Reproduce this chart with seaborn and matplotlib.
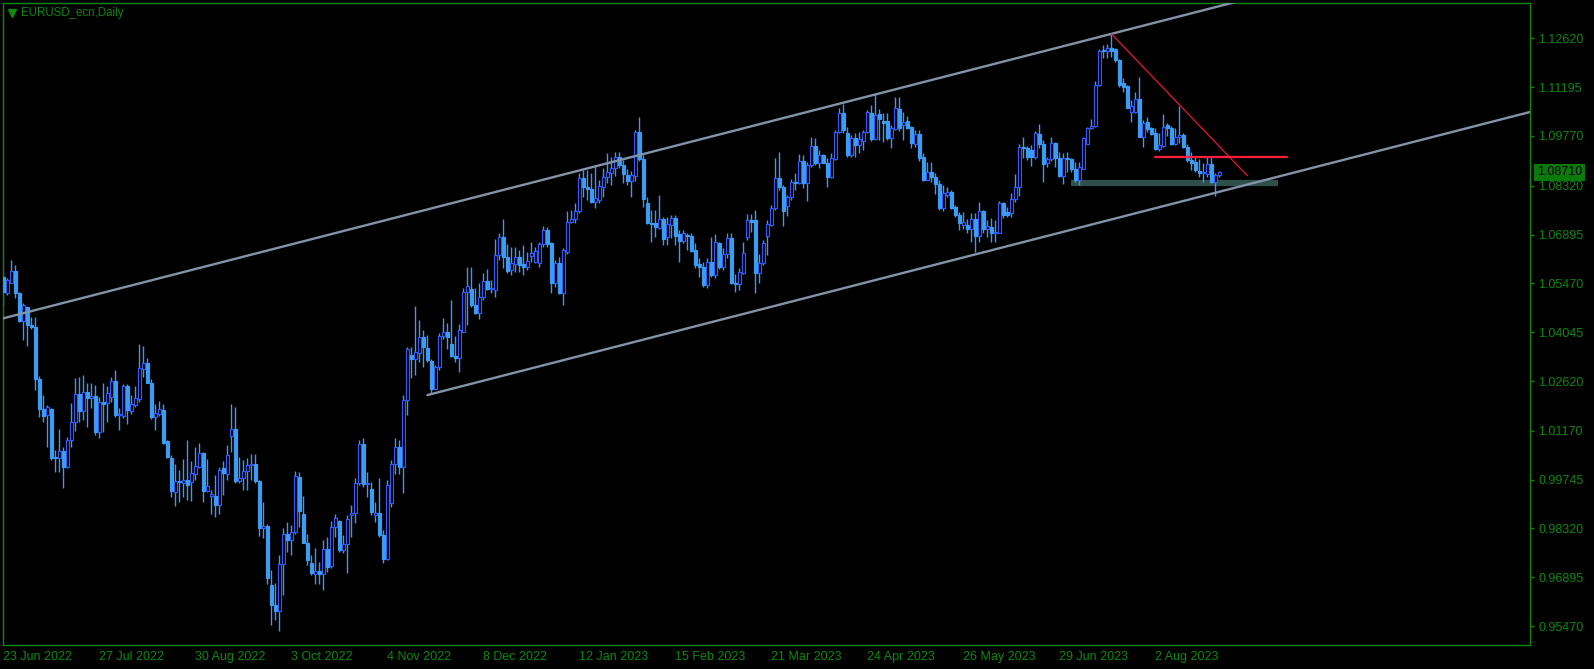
import numpy as np
import pandas as pd
import seaborn as sns
import matplotlib.pyplot as plt

# daily EURUSD candles (23 Jun 2022 .. 24 Aug 2023)
opens = [
    1.0566, 1.0520, 1.0548, 1.0583, 1.0518, 1.0438, 1.0478, 1.0425, 1.0420, 1.0268,
    1.0180, 1.0163, 1.0180, 1.0040, 1.0036, 1.0057, 1.0012, 1.0089, 1.0141, 1.0224,
    1.0175, 1.0229, 1.0213, 1.0218, 1.0114, 1.0200, 1.0197, 1.0216, 1.0262, 1.0162,
    1.0160, 1.0247, 1.0175, 1.0192, 1.0209, 1.0297, 1.0316, 1.0255, 1.0158, 1.0167,
    1.0177, 1.0087, 1.0036, 0.9939, 0.9970, 0.9963, 0.9973, 0.9966, 0.9992, 1.0012,
    1.0051, 0.9942, 0.9926, 0.9926, 0.9900, 1.0007, 0.9992, 1.0101, 1.0121, 0.9971,
    0.9980, 1.0000, 1.0017, 1.0021, 0.9970, 0.9832, 0.9838, 0.9666, 0.9608, 0.9591,
    0.9729, 0.9815, 0.9798, 0.9822, 0.9982, 0.9875, 0.9790, 0.9732, 0.9700, 0.9707,
    0.9700, 0.9771, 0.9722, 0.9835, 0.9854, 0.9769, 0.9786, 0.9871, 0.9876, 0.9963,
    1.0077, 0.9961, 0.9946, 0.9872, 0.9877, 0.9812, 0.9744, 0.9905, 1.0019, 1.0070,
    1.0010, 1.0208, 1.0338, 1.0325, 1.0344, 1.0391, 1.0357, 1.0321, 1.0239, 1.0302,
    1.0394, 1.0406, 1.0370, 1.0336, 1.0328, 1.0406, 1.0523, 1.0530, 1.0485, 1.0461,
    1.0506, 1.0555, 1.0530, 1.0529, 1.0631, 1.0681, 1.0625, 1.0586, 1.0603, 1.0623,
    1.0603, 1.0594, 1.0626, 1.0610, 1.0605, 1.0662, 1.0702, 1.0664, 1.0547, 1.0605,
    1.0520, 1.0639, 1.0727, 1.0734, 1.0759, 1.0853, 1.0829, 1.0821, 1.0785, 1.0791,
    1.0829, 1.0856, 1.0870, 1.0885, 1.0915, 1.0892, 1.0863, 1.0846, 1.0860, 1.0989,
    1.0909, 1.0780, 1.0724, 1.0722, 1.0708, 1.0734, 1.0681, 1.0717, 1.0737, 1.0691,
    1.0671, 1.0688, 1.0685, 1.0644, 1.0603, 1.0596, 1.0542, 1.0610, 1.0571, 1.0666,
    1.0594, 1.0634, 1.0678, 1.0549, 1.0545, 1.0578, 1.0683, 1.0732, 1.0732, 1.0576,
    1.0605, 1.0685, 1.0717, 1.0766, 1.0853, 1.0827, 1.0773, 1.0798, 1.0844, 1.0841,
    1.0905, 1.0839, 1.0892, 1.0949, 1.0899, 1.0921, 1.0897, 1.0856, 1.0909, 1.0990,
    1.1045, 1.0987, 1.0922, 1.0970, 1.0951, 1.0963, 1.0990, 1.1043, 1.0967, 1.1041,
    1.1022, 1.1022, 1.0970, 1.0996, 1.1055, 1.1009, 1.1022, 1.1004, 1.0955, 1.0983,
    1.0916, 1.0850, 1.0873, 1.0858, 1.0837, 1.0766, 1.0806, 1.0813, 1.0769, 1.0746,
    1.0717, 1.0717, 1.0705, 1.0734, 1.0685, 1.0759, 1.0705, 1.0712, 1.0693, 1.0695,
    1.0782, 1.0756, 1.0753, 1.0792, 1.0827, 1.0946, 1.0943, 1.0936, 1.0915, 1.0983,
    1.0955, 1.0899, 1.0909, 1.0957, 1.0912, 1.0860, 1.0912, 1.0909, 1.0880, 1.0850,
    1.0882, 1.0955, 1.0999, 1.1006, 1.1126, 1.1228, 1.1226, 1.1233, 1.1230, 1.1199,
    1.1131, 1.1123, 1.1048, 1.1048, 1.1084, 1.0975, 1.1019, 1.0999, 1.0985, 1.0938,
    1.0948, 1.1009, 1.0999, 1.0955, 1.0973, 1.0980, 1.0946, 1.0907, 1.0902, 1.0876,
    1.0868, 1.0866, 1.0895, 1.0844, 1.0863,
]
highs = [
    1.0581, 1.0564, 1.0615, 1.0600, 1.0522, 1.0490, 1.0479, 1.0450, 1.0450, 1.0276,
    1.0221, 1.0192, 1.0182, 1.0060, 1.0122, 1.0070, 1.0099, 1.0198, 1.0271, 1.0274,
    1.0279, 1.0257, 1.0257, 1.0250, 1.0216, 1.0257, 1.0247, 1.0274, 1.0294, 1.0182,
    1.0253, 1.0253, 1.0221, 1.0247, 1.0370, 1.0364, 1.0328, 1.0267, 1.0194, 1.0203,
    1.0194, 1.0091, 1.0046, 1.0021, 1.0002, 1.0034, 1.0089, 1.0029, 1.0070, 1.0080,
    1.0055, 1.0034, 0.9945, 0.9987, 1.0012, 1.0029, 1.0075, 1.0196, 1.0186, 1.0041,
    1.0031, 1.0036, 1.0050, 1.0050, 0.9973, 0.9909, 0.9846, 0.9710, 0.9673, 0.9754,
    0.9832, 0.9851, 0.9843, 0.9999, 0.9997, 0.9926, 0.9817, 0.9754, 0.9774, 0.9735,
    0.9798, 0.9808, 0.9854, 0.9874, 0.9856, 0.9812, 0.9871, 0.9900, 0.9978, 1.0090,
    1.0095, 0.9997, 0.9968, 0.9910, 0.9978, 0.9827, 0.9973, 1.0031, 1.0095, 1.0090,
    1.0221, 1.0362, 1.0362, 1.0481, 1.0440, 1.0411, 1.0396, 1.0325, 1.0308, 1.0401,
    1.0445, 1.0430, 1.0498, 1.0394, 1.0428, 1.0532, 1.0595, 1.0595, 1.0532, 1.0549,
    1.0578, 1.0588, 1.0556, 1.0675, 1.0694, 1.0736, 1.0662, 1.0654, 1.0654, 1.0644,
    1.0659, 1.0639, 1.0668, 1.0654, 1.0668, 1.0714, 1.0712, 1.0668, 1.0615, 1.0625,
    1.0649, 1.0759, 1.0761, 1.0780, 1.0868, 1.0878, 1.0878, 1.0870, 1.0889, 1.0848,
    1.0885, 1.0928, 1.0916, 1.0931, 1.0930, 1.0907, 1.0880, 1.0875, 1.0995, 1.1033,
    1.0922, 1.0800, 1.0761, 1.0761, 1.0805, 1.0741, 1.0741, 1.0747, 1.0746, 1.0703,
    1.0703, 1.0693, 1.0693, 1.0664, 1.0620, 1.0610, 1.0620, 1.0683, 1.0691, 1.0669,
    1.0649, 1.0693, 1.0693, 1.0574, 1.0591, 1.0669, 1.0749, 1.0749, 1.0761, 1.0634,
    1.0673, 1.0732, 1.0776, 1.0912, 1.0930, 1.0834, 1.0805, 1.0851, 1.0868, 1.0924,
    1.0922, 1.0902, 1.0973, 1.0970, 1.0936, 1.0924, 1.0912, 1.0926, 1.0994, 1.1058,
    1.1070, 1.1004, 1.0980, 1.0987, 1.0990, 1.0994, 1.1053, 1.1067, 1.1100, 1.1055,
    1.1043, 1.1043, 1.1009, 1.1092, 1.1090, 1.1048, 1.1035, 1.1006, 1.0994, 1.0994,
    1.0926, 1.0902, 1.0902, 1.0868, 1.0850, 1.0834, 1.0829, 1.0819, 1.0775, 1.0756,
    1.0756, 1.0734, 1.0753, 1.0751, 1.0785, 1.0761, 1.0732, 1.0737, 1.0732, 1.0788,
    1.0785, 1.0771, 1.0810, 1.0866, 1.0954, 1.0973, 1.0948, 1.0951, 1.0992, 1.1012,
    1.0965, 1.0917, 1.0975, 1.0960, 1.0931, 1.0926, 1.0931, 1.0912, 1.0902, 1.0902,
    1.0973, 1.1004, 1.1028, 1.1138, 1.1230, 1.1243, 1.1245, 1.1275, 1.1233, 1.1201,
    1.1145, 1.1126, 1.1082, 1.1106, 1.1148, 1.1024, 1.1033, 1.1002, 1.1000, 1.0985,
    1.1041, 1.1016, 1.1006, 1.0999, 1.1064, 1.0985, 1.0955, 1.0931, 1.0918, 1.0909,
    1.0897, 1.0918, 1.0918, 1.0870, 1.0876,
]
lows = [
    1.0483, 1.0513, 1.0547, 1.0503, 1.0435, 1.0383, 1.0364, 1.0415, 1.0235, 1.0158,
    1.0143, 1.0070, 1.0031, 0.9997, 0.9997, 0.9951, 1.0007, 1.0070, 1.0116, 1.0143,
    1.0148, 1.0128, 1.0182, 1.0104, 1.0097, 1.0114, 1.0143, 1.0201, 1.0158, 1.0119,
    1.0153, 1.0138, 1.0167, 1.0187, 1.0201, 1.0274, 1.0255, 1.0150, 1.0119, 1.0160,
    1.0078, 1.0036, 0.9924, 0.9897, 0.9909, 0.9924, 0.9914, 0.9912, 0.9973, 1.0007,
    0.9909, 0.9939, 0.9875, 0.9866, 0.9875, 0.9930, 0.9973, 1.0055, 0.9965, 0.9963,
    0.9945, 0.9944, 0.9973, 0.9963, 0.9809, 0.9805, 0.9671, 0.9549, 0.9564, 0.9533,
    0.9637, 0.9763, 0.9754, 0.9817, 0.9836, 0.9788, 0.9725, 0.9695, 0.9671, 0.9671,
    0.9652, 0.9705, 0.9715, 0.9808, 0.9764, 0.9759, 0.9702, 0.9806, 0.9848, 0.9958,
    0.9953, 0.9924, 0.9871, 0.9851, 0.9807, 0.9730, 0.9740, 0.9895, 0.9992, 0.9992,
    0.9934, 1.0163, 1.0270, 1.0279, 1.0318, 1.0304, 1.0318, 1.0224, 1.0238, 1.0294,
    1.0386, 1.0354, 1.0333, 1.0318, 1.0289, 1.0406, 1.0425, 1.0479, 1.0459, 1.0442,
    1.0498, 1.0527, 1.0518, 1.0508, 1.0615, 1.0591, 1.0578, 1.0571, 1.0581, 1.0581,
    1.0571, 1.0586, 1.0610, 1.0605, 1.0595, 1.0654, 1.0654, 1.0518, 1.0537, 1.0516,
    1.0484, 1.0634, 1.0722, 1.0724, 1.0751, 1.0800, 1.0790, 1.0780, 1.0766, 1.0780,
    1.0798, 1.0839, 1.0834, 1.0860, 1.0885, 1.0839, 1.0834, 1.0800, 1.0845, 1.0905,
    1.0770, 1.0720, 1.0669, 1.0683, 1.0705, 1.0659, 1.0660, 1.0680, 1.0659, 1.0610,
    1.0664, 1.0644, 1.0639, 1.0591, 1.0566, 1.0537, 1.0532, 1.0566, 1.0564, 1.0588,
    1.0586, 1.0620, 1.0545, 1.0523, 1.0527, 1.0573, 1.0673, 1.0698, 1.0518, 1.0547,
    1.0600, 1.0630, 1.0714, 1.0761, 1.0819, 1.0713, 1.0743, 1.0790, 1.0819, 1.0837,
    1.0824, 1.0788, 1.0887, 1.0892, 1.0885, 1.0897, 1.0829, 1.0853, 1.0907, 1.0985,
    1.0985, 1.0915, 1.0915, 1.0917, 1.0928, 1.0936, 1.0987, 1.0963, 1.0965, 1.0965,
    1.0960, 1.0965, 1.0941, 1.0994, 1.0992, 1.0965, 1.0996, 1.0941, 1.0946, 1.0905,
    1.0846, 1.0848, 1.0843, 1.0809, 1.0761, 1.0759, 1.0800, 1.0763, 1.0741, 1.0702,
    1.0707, 1.0693, 1.0668, 1.0639, 1.0668, 1.0693, 1.0683, 1.0668, 1.0668, 1.0693,
    1.0739, 1.0741, 1.0741, 1.0785, 1.0802, 1.0912, 1.0907, 1.0889, 1.0909, 1.0941,
    1.0844, 1.0887, 1.0905, 1.0887, 1.0858, 1.0837, 1.0873, 1.0873, 1.0844, 1.0834,
    1.0880, 1.0953, 1.0996, 1.1004, 1.1123, 1.1204, 1.1204, 1.1206, 1.1194, 1.1121,
    1.1106, 1.1058, 1.1019, 1.1045, 1.0973, 1.0944, 1.0990, 1.0980, 1.0936, 1.0934,
    1.0946, 1.0977, 1.0951, 1.0951, 1.0957, 1.0941, 1.0902, 1.0878, 1.0873, 1.0858,
    1.0844, 1.0858, 1.0839, 1.0802, 1.0858,
]
closes = [
    1.0522, 1.0557, 1.0583, 1.0518, 1.0438, 1.0484, 1.0425, 1.0420, 1.0268, 1.0180,
    1.0161, 1.0186, 1.0037, 1.0036, 1.0057, 1.0012, 1.0089, 1.0141, 1.0224, 1.0175,
    1.0229, 1.0213, 1.0219, 1.0114, 1.0200, 1.0195, 1.0226, 1.0262, 1.0162, 1.0167,
    1.0247, 1.0177, 1.0194, 1.0211, 1.0301, 1.0316, 1.0257, 1.0158, 1.0170, 1.0179,
    1.0082, 1.0041, 0.9942, 0.9970, 0.9966, 0.9973, 0.9960, 0.9994, 1.0014, 1.0051,
    0.9942, 0.9955, 0.9932, 0.9900, 1.0002, 0.9994, 1.0046, 1.0121, 0.9971, 0.9980,
    1.0000, 1.0017, 1.0021, 0.9970, 0.9834, 0.9838, 0.9688, 0.9608, 0.9591, 0.9729,
    0.9815, 0.9798, 0.9822, 0.9985, 0.9883, 0.9790, 0.9741, 0.9701, 0.9707, 0.9700,
    0.9771, 0.9720, 0.9835, 0.9861, 0.9769, 0.9786, 0.9858, 0.9876, 0.9963, 1.0077,
    0.9961, 0.9965, 0.9880, 0.9877, 0.9812, 0.9744, 0.9958, 1.0019, 1.0070, 1.0010,
    1.0208, 1.0354, 1.0325, 1.0347, 1.0391, 1.0360, 1.0323, 1.0240, 1.0304, 1.0394,
    1.0406, 1.0391, 1.0336, 1.0328, 1.0411, 1.0523, 1.0539, 1.0484, 1.0461, 1.0506,
    1.0555, 1.0530, 1.0534, 1.0631, 1.0681, 1.0625, 1.0584, 1.0605, 1.0623, 1.0600,
    1.0594, 1.0613, 1.0636, 1.0641, 1.0662, 1.0702, 1.0662, 1.0547, 1.0605, 1.0520,
    1.0644, 1.0727, 1.0734, 1.0759, 1.0853, 1.0829, 1.0821, 1.0785, 1.0795, 1.0831,
    1.0856, 1.0873, 1.0885, 1.0915, 1.0892, 1.0866, 1.0846, 1.0863, 1.0989, 1.0909,
    1.0792, 1.0724, 1.0720, 1.0710, 1.0734, 1.0675, 1.0720, 1.0737, 1.0685, 1.0671,
    1.0693, 1.0684, 1.0642, 1.0600, 1.0596, 1.0542, 1.0610, 1.0571, 1.0667, 1.0594,
    1.0634, 1.0678, 1.0547, 1.0545, 1.0581, 1.0636, 1.0732, 1.0725, 1.0576, 1.0607,
    1.0666, 1.0720, 1.0766, 1.0853, 1.0827, 1.0759, 1.0798, 1.0844, 1.0841, 1.0905,
    1.0841, 1.0892, 1.0949, 1.0899, 1.0921, 1.0899, 1.0858, 1.0912, 1.0990, 1.1045,
    1.0993, 1.0922, 1.0970, 1.0951, 1.0967, 1.0990, 1.1048, 1.0967, 1.1038, 1.1026,
    1.1016, 1.0970, 1.0999, 1.1058, 1.1000, 1.1019, 1.1000, 1.0957, 1.0983, 1.0914,
    1.0850, 1.0873, 1.0858, 1.0837, 1.0766, 1.0811, 1.0813, 1.0766, 1.0746, 1.0724,
    1.0727, 1.0705, 1.0734, 1.0685, 1.0759, 1.0707, 1.0714, 1.0693, 1.0698, 1.0782,
    1.0746, 1.0746, 1.0792, 1.0829, 1.0946, 1.0941, 1.0917, 1.0915, 1.0985, 1.0954,
    1.0895, 1.0909, 1.0957, 1.0912, 1.0860, 1.0912, 1.0909, 1.0880, 1.0850, 1.0887,
    1.0970, 1.0999, 1.1006, 1.1126, 1.1226, 1.1224, 1.1233, 1.1226, 1.1199, 1.1126,
    1.1121, 1.1060, 1.1064, 1.1084, 1.0975, 1.1016, 1.0996, 1.0983, 1.0938, 1.0951,
    1.1004, 1.0999, 1.0953, 1.0975, 1.0980, 1.0944, 1.0907, 1.0899, 1.0878, 1.0870,
    1.0873, 1.0895, 1.0844, 1.0863, 1.0871,
]

date_labels = ['23 Jun 2022', '27 Jul 2022', '30 Aug 2022', '3 Oct 2022', '4 Nov 2022',
               '8 Dec 2022', '12 Jan 2023', '15 Feb 2023', '21 Mar 2023', '24 Apr 2023',
               '26 May 2023', '29 Jun 2023', '2 Aug 2023']
price_labels = ['0.95470', '0.96895', '0.98320', '0.99745', '1.01170', '1.02620', '1.04045',
                '1.05470', '1.06895', '1.08320', '1.09770', '1.11195', '1.12620']
last_price = '1.08710'

# drawn objects (bar index, price)
channel_top = [(0, 1.0445), (277, 1.1275)]   # ray to the right
channel_bottom_start = (106, 1.0221)         # parallel ray
red_trend = [(277, 1.1275), (311, 1.0861)]
red_level = [(288, 1.0917), (321, 1.0917)]
support_band = [(267, 1.0840), (318.6, 1.0840)]

GREEN = '#0b8a0b'
BEAR = '#3a9cf2'
BULL_EDGE = '#2f5bff'
WICK = '#4694f2'

sns.set_theme(style='dark', rc={'axes.facecolor': 'black', 'figure.facecolor': 'black',
                                'axes.edgecolor': GREEN, 'axes.grid': False})
plt.rcParams['font.family'] = ['Liberation Sans', 'DejaVu Sans']

dates = pd.bdate_range('2022-06-23', periods=len(closes), freq='C', holidays=['2022-12-26'])
df = pd.DataFrame({'date': dates, 'open': opens, 'high': highs, 'low': lows, 'close': closes})
df['idx'] = np.arange(len(df))
df['high'] = df[['high', 'open', 'close']].max(axis=1)
df['low'] = df[['low', 'open', 'close']].min(axis=1)
up = df['close'] >= df['open']

W, H = 1594, 669
fig = plt.figure(figsize=(W / 100, H / 100), dpi=100)
ax = fig.add_axes([2.7 / W, (H - 645) / H, (1530 - 2.7) / W, (645 - 2.7) / H])

# wicks then bodies
ax.vlines(df['idx'], df['low'], df['high'], color=WICK, lw=1.0, zorder=2)
body_lo = df[['open', 'close']].min(axis=1)
body_h = (df['close'] - df['open']).abs()
ax.bar(df.loc[up, 'idx'], body_h[up], bottom=body_lo[up], width=0.55,
       facecolor='black', edgecolor=BULL_EDGE, linewidth=0.85, zorder=3)
ax.bar(df.loc[~up, 'idx'], body_h[~up], bottom=body_lo[~up], width=0.55,
       facecolor=BEAR, edgecolor=BEAR, linewidth=0.85, zorder=3)

# channel
(x0, y0), (x1, y1) = channel_top
slope = (y1 - y0) / (x1 - x0)
xr = np.array([-2, 420])
sns.lineplot(x=xr, y=y0 + slope * (xr - x0), color='#8494a8', lw=1.7, ax=ax, zorder=4)
bx, by = channel_bottom_start
xb = np.array([bx, 420])
sns.lineplot(x=xb, y=by + slope * (xb - bx), color='#8494a8', lw=1.7, ax=ax, zorder=4)

ax.plot([p[0] for p in red_trend], [p[1] for p in red_trend], color='#e8173a', lw=0.9, zorder=4)
ax.plot([p[0] for p in red_level], [p[1] for p in red_level], color='#ff1e3c', lw=1.6, zorder=4)
ax.plot([p[0] for p in support_band], [p[1] for p in support_band], color='#2f4f4a',
        lw=4.5, solid_capstyle='butt', zorder=1)

ax.set_xlim(-0.18, 381.65)
ax.set_ylim(0.94917, 1.13659)

# axes cosmetics
for s in ax.spines.values():
    s.set_color(GREEN)
    s.set_linewidth(1.0)
tick_pos = dates.get_indexer(pd.to_datetime(date_labels, format='%d %b %Y'))
ax.set_xticks(tick_pos)
ax.set_xticklabels(date_labels, ha='left')
ax.yaxis.tick_right()
ax.set_yticks([float(v) for v in price_labels])
ax.set_yticklabels(price_labels)
ax.tick_params(axis='both', colors=GREEN, labelcolor=GREEN, labelsize=9, length=3,
               width=1, direction='out')
ax.tick_params(axis='x', pad=1.5)
ax.tick_params(axis='y', pad=3)
ax.set_xlabel('')
ax.set_ylabel('')

# current price tag
ax.text(1.0047, float(last_price), last_price, transform=ax.get_yaxis_transform(),
        ha='left', va='center', fontsize=9, color='black', zorder=6, clip_on=False,
        bbox=dict(boxstyle='square,pad=0.22', facecolor='#0a7a0a', edgecolor='none'))

# title
ax.plot([0.0058], [0.9835], marker='v', ms=5.5, color=GREEN, transform=ax.transAxes,
        clip_on=False, zorder=6)
ax.text(0.0122, 0.9835, 'EURUSD_ecn,Daily', transform=ax.transAxes, ha='left', va='center',
        fontsize=8.3, color=GREEN)

fig.savefig('out.png', dpi=100, facecolor='black')
